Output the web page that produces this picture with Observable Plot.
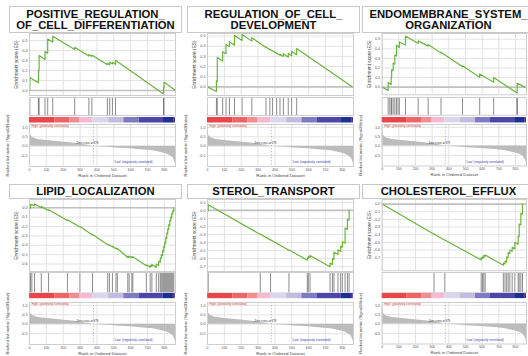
<!DOCTYPE html>
<html><head><meta charset="utf-8">
<script src="https://cdn.jsdelivr.net/npm/d3@7"></script>
<script src="https://cdn.jsdelivr.net/npm/@observablehq/plot@0.6"></script>
<style>
body{margin:0;background:#fff;font-family:"Liberation Sans",Arial,sans-serif;}
#root{position:relative;width:528px;height:356px;overflow:hidden;background:#fff;}
.abs{position:absolute;line-height:0;}
.title{position:absolute;box-sizing:border-box;border:1px solid #c8c8c8;background:#fff;font-weight:bold;font-size:11.3px;line-height:10.8px;text-align:center;color:#111;white-space:pre-line;display:flex;align-items:center;justify-content:center;}
</style></head><body><div id="root"></div>
<script>
// ---------- data ----------
const N = 866;
const zeroCross = 379;
const titles = ["POSITIVE_REGULATION_\nOF_CELL_DIFFERENTIATION","REGULATION_OF_CELL_\nDEVELOPMENT","ENDOMEMBRANE_SYSTEM_\nORGANIZATION","LIPID_LOCALIZATION","STEROL_TRANSPORT","CHOLESTEROL_EFFLUX"];
const rankTicks = [0,100,200,300,400,500,600,700,800];
const metricTicks = [1.0,0.5,0.0,-0.5];
const posTicks = [0,0.1,0.2,0.3,0.4,0.5];
const lipidTicks = [0,-0.1,-0.2,-0.3,-0.4,-0.5,-0.6];
const sterolTicks = [0.1,0,-0.1,-0.2,-0.3,-0.4,-0.5,-0.6,-0.7];
const effluxTicks = [0,-0.1,-0.2,-0.3,-0.4,-0.5,-0.6,-0.7];
const stripBreaks = [0,150,240,300,375,470,560,650,795,855,866];
const stripColors = ["#e8464a","#ed6569","#f38d8f","#f6b9d2","#dad6ee","#c1bce0","#7e7bc4","#4b47aa","#1d2f91","#5b2e92"];
const metricRank = [0,2,5,10,20,40,80,120,180,240,300,350,379,420,480,540,600,660,720,760,800,830,850,858,863,866];
const metricValue = [0.92,0.78,0.64,0.55,0.46,0.39,0.33,0.29,0.24,0.19,0.12,0.05,0.0,-0.02,-0.06,-0.1,-0.13,-0.18,-0.23,-0.29,-0.37,-0.47,-0.6,-0.72,-0.85,-0.95];

const p1Hits = [2,53,57,92,108,138,268,352,370,462,476,492,510,795,798];
const p1Curve = [[0,0],[2,0],[2,0.13],[53,0.077],[53,0.2],[57,0.196],[57,0.35],[92,0.31],[92,0.39],[108,0.373],[108,0.515],[138,0.484],[138,0.543],[268,0.41],[268,0.432],[352,0.345],[352,0.36],[370,0.341],[370,0.355],[462,0.258],[462,0.272],[476,0.257],[476,0.283],[492,0.266],[492,0.282],[510,0.262],[510,0.302],[795,-0.035],[795,0.03],[798,0.027],[798,0.085],[866,0.0]];

const p2Hits = [53,58,90,110,130,160,205,263,347,370,386,410,430,450,479,499,529];
const p2Curve = [[0,0],[53,-0.046],[53,0.06],[58,0.054],[58,0.29],[90,0.255],[90,0.346],[110,0.325],[110,0.418],[130,0.395],[130,0.444],[160,0.41],[160,0.506],[205,0.455],[205,0.516],[263,0.45],[263,0.484],[347,0.387],[347,0.392],[370,0.365],[370,0.37],[386,0.352],[386,0.356],[410,0.328],[410,0.333],[430,0.31],[430,0.322],[450,0.299],[450,0.325],[479,0.292],[479,0.33],[499,0.307],[499,0.35],[529,0.315],[529,0.378],[858,0]];

const p3Hits = [36,46,54,57,66,76,86,95,103,140,216,276,353,482,585,669,808,811];
const p3Curve = [[0,0],[36,-0.035],[36,0.048],[54,0.026],[54,0.1],[57,0.098],[57,0.18],[66,0.172],[66,0.25],[76,0.24],[76,0.334],[86,0.325],[86,0.438],[103,0.414],[103,0.472],[140,0.44],[140,0.534],[216,0.455],[216,0.483],[276,0.428],[276,0.445],[353,0.355],[353,0.365],[482,0.214],[482,0.222],[585,0.103],[585,0.138],[669,0.052],[669,0.1],[810,-0.062],[810,0.041],[856,0]];

const p4Hits = [6,14,30,70,113,225,299,374,464,474,492,513,521,583,591,607,613,693,716,726,752,766,776,782,790,796,802,808,814,820,826,832,838,844,850,856];
const p4Curve = [[0,0],[6,-0.005],[6,0.035],[14,0.028],[14,0.036],[30,0.022],[30,0.04],[70,0.0],[70,0.012],[113,-0.03],[113,-0.022],[225,-0.135],[225,-0.128],[299,-0.205],[299,-0.2],[374,-0.29],[374,-0.285],[464,-0.395],[464,-0.39],[474,-0.402],[474,-0.396],[492,-0.418],[492,-0.412],[513,-0.437],[513,-0.43],[521,-0.44],[521,-0.435],[583,-0.53],[583,-0.52],[591,-0.53],[591,-0.515],[607,-0.534],[607,-0.524],[613,-0.531],[613,-0.522],[693,-0.618],[693,-0.608],[716,-0.635],[716,-0.615],[726,-0.627],[726,-0.605],[752,-0.636],[752,-0.6],[766,-0.617],[766,-0.57],[776,-0.582],[776,-0.535],[782,-0.542],[782,-0.5],[790,-0.51],[790,-0.455],[796,-0.462],[796,-0.415],[802,-0.422],[802,-0.37],[808,-0.377],[808,-0.32],[814,-0.327],[814,-0.27],[820,-0.277],[820,-0.225],[826,-0.232],[826,-0.18],[832,-0.187],[832,-0.135],[838,-0.142],[838,-0.1],[844,-0.107],[844,-0.06],[850,-0.067],[850,-0.03],[856,-0.037],[856,0.0]];

const p5Hits = [4,313,374,483,592,598,608,727,741,750,774,790,800,816,830,840];
const p5Curve = [[0,0],[4,-0.005],[4,0.07],[313,-0.3],[313,-0.295],[374,-0.37],[374,-0.365],[483,-0.497],[483,-0.49],[592,-0.62],[592,-0.59],[598,-0.597],[598,-0.575],[608,-0.587],[608,-0.56],[727,-0.7],[727,-0.655],[741,-0.672],[741,-0.6],[750,-0.61],[750,-0.52],[774,-0.549],[774,-0.49],[790,-0.51],[790,-0.445],[800,-0.457],[800,-0.39],[816,-0.41],[816,-0.22],[830,-0.237],[830,-0.11],[840,-0.122],[840,0.0]];

const p6Hits = [311,376,594,602,610,618,727,737,747,756,766,780,796,816,822,832,842];
const p6Curve = [[0,0],[311,-0.395],[311,-0.39],[376,-0.473],[376,-0.468],[594,-0.73],[594,-0.7],[602,-0.71],[602,-0.69],[610,-0.7],[610,-0.67],[618,-0.68],[618,-0.665],[727,-0.8],[727,-0.77],[737,-0.782],[737,-0.745],[747,-0.757],[747,-0.69],[756,-0.7],[756,-0.635],[766,-0.647],[766,-0.6],[780,-0.617],[780,-0.565],[796,-0.585],[796,-0.5],[816,-0.524],[816,-0.42],[822,-0.427],[822,-0.26],[832,-0.272],[832,-0.12],[842,-0.132],[842,0.0]];

const panels = [
  {hits:p1Hits, curve:p1Curve, domain:[-0.05,0.57], ticks:posTicks},
  {hits:p2Hits, curve:p2Curve, domain:[-0.085,0.525], ticks:posTicks},
  {hits:p3Hits, curve:p3Curve, domain:[-0.08,0.56], ticks:posTicks},
  {hits:p4Hits, curve:p4Curve, domain:[-0.68,0.088], ticks:lipidTicks},
  {hits:p5Hits, curve:p5Curve, domain:[-0.76,0.135], ticks:sterolTicks},
  {hits:p6Hits, curve:p6Curve, domain:[-0.87,0.06], ticks:effluxTicks}
];

// ---------- layout ----------
const root = document.getElementById("root");
const plotLefts = [29, 207, 382];
const rows = [
  {titleTop:6, titleH:27, esTop:33, esH:62, barsTop:97, barsH:18, stripTop:116.5, stripH:5.5, rankTop:124, rankH:42},
  {titleTop:184, titleH:15, esTop:199, esH:72, barsTop:271.5, barsH:20.5, stripTop:293, stripH:5.2, rankTop:302, rankH:42}
];
const ML = 30, MR = 2, PW = 146, W = ML + PW + MR;
const style = {fontFamily:"'Liberation Sans', Arial, sans-serif", background:"transparent", overflow:"visible"};
const fmt = d => d.toFixed(1);
const gridColor = "#e3e3e3", frameColor = "#cdcdcd";

function place(el, left, top) {
  const d = document.createElement("div");
  d.className = "abs";
  d.style.left = left + "px"; d.style.top = top + "px";
  d.appendChild(el); root.appendChild(d);
}

panels.forEach((p, i) => {
  const col = i % 3, g = rows[Math.floor(i / 3)];
  const pl = plotLefts[col];
  const left = pl - ML;

  const t = document.createElement("div");
  t.className = "title";
  t.style.left = (pl - 20) + "px"; t.style.top = g.titleTop + "px";
  t.style.width = "173px"; t.style.height = g.titleH + "px";
  t.textContent = titles[i];
  root.appendChild(t);

  const es = Plot.plot({
    width: W, height: g.esH, marginLeft: ML, marginRight: MR, marginTop: 0, marginBottom: 0, style,
    x: {domain: [0, N], axis: null}, y: {domain: p.domain},
    marks: [
      Plot.gridX(rankTicks, {stroke: gridColor, strokeOpacity: 1}),
      Plot.gridY(p.ticks, {stroke: gridColor, strokeOpacity: 1}),
      Plot.ruleY([0], {stroke: "#c2c2c2", strokeWidth: 1.6}),
      Plot.line(p.curve, {x: d => d[0], y: d => d[1], stroke: "#6ab43e", strokeWidth: 1.2}),
      Plot.axisY(p.ticks, {tickFormat: fmt, fontSize: 3.8, tickSize: 0, tickPadding: 2, label: null, color: "#555"}),
      Plot.text(["Enrichment score (ES)"], {frameAnchor: "left", textAnchor: "middle", lineAnchor: "middle", rotate: -90, dx: -13, fontSize: 4.8, fill: "#444"}),
      Plot.frame({stroke: frameColor})
    ]
  });
  place(es, left, g.esTop);

  const bars = Plot.plot({
    width: W, height: g.barsH, marginLeft: ML, marginRight: MR, marginTop: 0, marginBottom: 0, style,
    x: {domain: [0, N], axis: null},
    marks: [
      Plot.ruleX(p.hits, {stroke: "#5a5a5a", strokeWidth: 0.7}),
      Plot.frame({stroke: frameColor})
    ]
  });
  place(bars, left, g.barsTop);

  const strip = Plot.plot({
    width: W, height: g.stripH, marginLeft: ML, marginRight: MR, marginTop: 0, marginBottom: 0, style,
    x: {domain: [0, N], axis: null}, color: {type: "identity"},
    marks: [
      Plot.rect(stripColors, {x1: (d, j) => stripBreaks[j], x2: (d, j) => stripBreaks[j + 1], fill: d => d})
    ]
  });
  place(strip, left, g.stripTop);

  const rank = Plot.plot({
    width: W, height: g.rankH + 14, marginLeft: ML, marginRight: MR, marginTop: 0, marginBottom: 14, style,
    x: {domain: [0, N]}, y: {domain: [-1.07, 1.15]},
    marks: [
      Plot.gridX(rankTicks, {stroke: gridColor, strokeOpacity: 1}),
      Plot.gridY(metricTicks, {stroke: gridColor, strokeOpacity: 1}),
      Plot.areaY(metricRank, {x: d => d, y: (d, j) => metricValue[j], fill: "#bcbcbc", curve: "monotone-x"}),
      Plot.ruleX([zeroCross], {stroke: "#9a9a9a", strokeWidth: 0.6, strokeDasharray: "1.5,1.5"}),
      Plot.text([zeroCross], {x: d => d, y: 0, text: d => `Zero cross at ${d}`, dx: -6, dy: -3.4, fontSize: 2.8, fill: "#333"}),
      Plot.text(["'High' (positively correlated)"], {frameAnchor: "top-left", dx: 1.5, dy: 0.3, fontSize: 3.1, fill: "#e2332f"}),
      Plot.text(["'Low' (negatively correlated)"], {frameAnchor: "bottom-right", textAnchor: "end", dx: -23, dy: -3.5, fontSize: 3.1, fill: "#3a3ab0"}),
      Plot.axisY(metricTicks, {tickFormat: fmt, fontSize: 3.8, tickSize: 0, tickPadding: 2, label: null, color: "#555"}),
      Plot.text(["Ranked list metric (Signal2Noise)"], {frameAnchor: "left", textAnchor: "middle", lineAnchor: "middle", rotate: -90, dx: -22, fontSize: 4.2, fill: "#444"}),
      Plot.axisX(rankTicks, {fontSize: 3.5, tickSize: 0, tickPadding: 1.5, label: null, color: "#555"}),
      Plot.text(["Rank in Ordered Dataset"], {frameAnchor: "bottom", dy: 10.5, fontSize: 4.4, fill: "#444"}),
      Plot.frame({stroke: frameColor})
    ]
  });
  place(rank, left, g.rankTop);
});
</script></body></html>
